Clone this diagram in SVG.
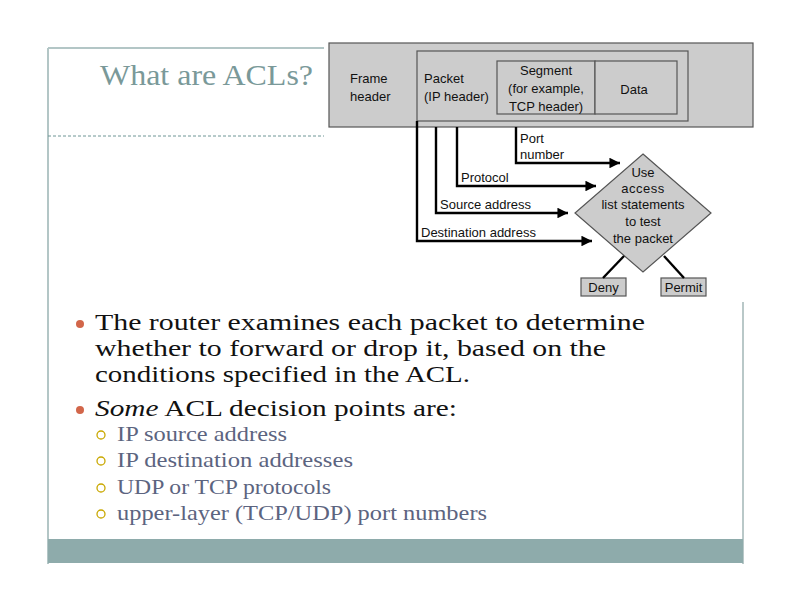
<svg xmlns="http://www.w3.org/2000/svg" width="792" height="612" viewBox="0 0 792 612">
<defs>
<style>
.frame{stroke:#b3c6c6;stroke-width:2;fill:none}
.box{fill:#cccccc;stroke:#555555;stroke-width:1.2}
.lbl{font-family:"Liberation Sans",Arial,sans-serif;font-size:13px;fill:#111}
.conn{stroke:#000;stroke-width:2.4;fill:none}
.main{font-family:"Liberation Serif","Times New Roman",serif;font-size:22.5px;fill:#111}
.sub{font-family:"Liberation Serif","Times New Roman",serif;font-size:21px;fill:#5c6480}
</style>
<marker id="ah" viewBox="0 0 10 10" refX="10" refY="5" markerWidth="6" markerHeight="4.4" markerUnits="strokeWidth" orient="auto">
<path d="M0,0 L10,5 L0,10 z" fill="#000"/>
</marker>
</defs>
<rect width="792" height="612" fill="#fff"/>
<g id="slide-frame">
<line class="frame" x1="48" y1="48" x2="48" y2="564"/>
<line class="frame" x1="48" y1="48" x2="324" y2="48"/>
<line x1="48" y1="136" x2="324" y2="136" stroke="#6f9696" stroke-width="1" stroke-dasharray="3,2"/>
<line x1="743" y1="302" x2="743" y2="564" stroke="#8aa3a3" stroke-width="1.2"/>
<rect x="48" y="539" width="695" height="24" fill="#8eabab"/>
</g>
<text id="title" x="100" y="85" font-family="Liberation Serif,'Times New Roman',serif" font-size="30" fill="#7a9999" textLength="213" lengthAdjust="spacingAndGlyphs">What are ACLs?</text>
<g id="frame-box">
<rect class="box" x="329" y="43" width="424" height="84"/>
<text class="lbl" x="350" y="83">Frame</text>
<text class="lbl" x="350" y="101">header</text>
</g>
<g id="packet-box">
<rect class="box" x="417" y="51" width="271" height="70"/>
<text class="lbl" x="424" y="83">Packet</text>
<text class="lbl" x="424" y="101">(IP header)</text>
</g>
<g id="segment-box">
<rect class="box" x="497" y="61" width="98" height="53"/>
<text class="lbl" x="546" y="75" text-anchor="middle">Segment</text>
<text class="lbl" x="546" y="93" text-anchor="middle">(for example,</text>
<text class="lbl" x="546" y="111" text-anchor="middle">TCP header)</text>
</g>
<g id="data-box">
<rect class="box" x="595" y="61" width="82" height="53"/>
<text class="lbl" x="634" y="94" text-anchor="middle">Data</text>
</g>
<g id="decision">
<polygon class="box" points="643,154 711,213 643,272 575,213"/>
<text class="lbl" x="643" y="177" text-anchor="middle">Use</text>
<text class="lbl" x="643" y="193" text-anchor="middle" font-size="10" letter-spacing="0.5">access</text>
<text class="lbl" x="643" y="209" text-anchor="middle">list statements</text>
<text class="lbl" x="643" y="226" text-anchor="middle">to test</text>
<text class="lbl" x="643" y="243" text-anchor="middle">the packet</text>
</g>
<g id="deny">
<rect class="box" x="581" y="278" width="45" height="18"/>
<text class="lbl" x="603.5" y="292" text-anchor="middle">Deny</text>
</g>
<g id="permit">
<rect class="box" x="661" y="278" width="45" height="18"/>
<text class="lbl" x="683.5" y="292" text-anchor="middle">Permit</text>
</g>
<g id="connectors">
<polyline class="conn" points="516,127 516,163 620,163" marker-end="url(#ah)"/>
<polyline class="conn" points="457,127 457,186 596,186" marker-end="url(#ah)"/>
<polyline class="conn" points="436,127 436,213 568,213" marker-end="url(#ah)"/>
<polyline class="conn" points="417,121 417,241 592,241" marker-end="url(#ah)"/>
<line class="conn" x1="624" y1="256" x2="603" y2="278"/>
<line class="conn" x1="664" y1="256" x2="684" y2="278"/>
<text class="lbl" x="520" y="143">Port</text>
<text class="lbl" x="520" y="159">number</text>
<text class="lbl" x="461" y="182">Protocol</text>
<text class="lbl" x="440" y="209">Source address</text>
<text class="lbl" x="421" y="237">Destination address</text>
</g>
<g id="bullets">
<circle cx="80" cy="324" r="4" fill="#d2664a"/>
<text class="main" x="95" y="330" textLength="550" lengthAdjust="spacingAndGlyphs">The router examines each packet to determine</text>
<text class="main" x="95" y="356" textLength="511" lengthAdjust="spacingAndGlyphs">whether to forward or drop it, based on the</text>
<text class="main" x="95" y="382" textLength="375" lengthAdjust="spacingAndGlyphs">conditions specified in the ACL.</text>
<circle cx="80" cy="410" r="4" fill="#d2664a"/>
<text class="main" x="95" y="416" textLength="362" lengthAdjust="spacingAndGlyphs"><tspan font-style="italic">Some</tspan> ACL decision points are:</text>
<g fill="none" stroke="#c9a800" stroke-width="1.3">
<circle cx="101" cy="435" r="4"/>
<circle cx="101" cy="461" r="4"/>
<circle cx="101" cy="488" r="4"/>
<circle cx="101" cy="514" r="4"/>
</g>
<text class="sub" x="117" y="441" textLength="170" lengthAdjust="spacingAndGlyphs">IP source address</text>
<text class="sub" x="117" y="467" textLength="236" lengthAdjust="spacingAndGlyphs">IP destination addresses</text>
<text class="sub" x="117" y="494" textLength="214" lengthAdjust="spacingAndGlyphs">UDP or TCP protocols</text>
<text class="sub" x="117" y="520" textLength="370" lengthAdjust="spacingAndGlyphs">upper-layer (TCP/UDP) port numbers</text>
</g>
</svg>
